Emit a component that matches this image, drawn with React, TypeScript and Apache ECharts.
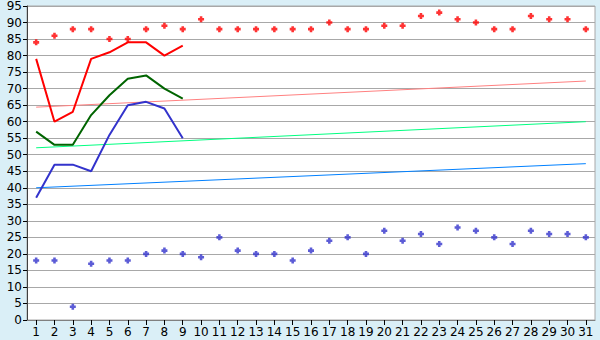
import React, { useEffect, useRef } from "react";
import * as echarts from "echarts";

const days = ["1","2","3","4","5","6","7","8","9","10","11","12","13","14","15","16","17","18","19","20","21","22","23","24","25","26","27","28","29","30","31"];
const redLine = [79, 60, 63, 79, 81, 84, 84, 80, 83];
const greenLine = [57, 53, 53, 62, 68, 73, 74, 70, 67];
const blueLine = [37, 47, 47, 45, 56, 65, 66, 64, 55];
const redPoints = [84, 86, 88, 88, 85, 85, 88, 89, 88, 91, 88, 88, 88, 88, 88, 88, 90, 88, 88, 89, 89, 92, 93, 91, 90, 88, 88, 92, 91, 91, 88];
const bluePoints = [18, 18, 4, 17, 18, 18, 20, 21, 20, 19, 25, 21, 20, 20, 18, 21, 24, 25, 20, 27, 24, 26, 23, 28, 27, 25, 23, 27, 26, 26, 25];
const redTrend = [64.4, null, null, null, null, null, null, null, null, null, null, null, null, null, null, null, null, null, null, null, null, null, null, null, null, null, null, null, null, null, 72.3];
const greenTrend = [52.1, null, null, null, null, null, null, null, null, null, null, null, null, null, null, null, null, null, null, null, null, null, null, null, null, null, null, null, null, null, 60.0];
const blueTrend = [40.0, null, null, null, null, null, null, null, null, null, null, null, null, null, null, null, null, null, null, null, null, null, null, null, null, null, null, null, null, null, 47.3];

const plusSymbol = "path://M2,0H5V2H7V5H5V7H2V5H0V2H2Z";

export default function App() {
  const ref = useRef<HTMLDivElement>(null);
  useEffect(() => {
    const chart = echarts.init(ref.current!, null, { renderer: "svg" });
    const font = "DejaVu Sans";
    chart.setOption({
      animation: false,
      backgroundColor: "#daeff7",
      grid: {
        left: 27,
        top: 5,
        width: 568,
        height: 315,
        show: true,
        backgroundColor: "#ffffff",
        borderColor: "#a8a8a8",
        borderWidth: 1,
      },
      xAxis: {
        type: "category",
        data: days,
        boundaryGap: true,
        axisLine: { show: true, lineStyle: { color: "#808080", width: 1 } },
        axisTick: { show: true, alignWithLabel: true, length: 5, lineStyle: { color: "#000000" } },
        axisLabel: { color: "#000000", fontFamily: font, fontSize: 12, margin: 6, interval: 0 },
        splitLine: { show: false },
      },
      yAxis: {
        type: "value",
        min: 0,
        max: 95,
        interval: 5,
        axisLine: { show: true, lineStyle: { color: "#404040", width: 1 } },
        axisTick: { show: true, length: 4, lineStyle: { color: "#000000" } },
        axisLabel: { color: "#000000", fontFamily: font, fontSize: 12, margin: 5 },
        splitLine: { show: true, lineStyle: { color: "#a8a8a8", width: 1 } },
      },
      series: [
        { type: "line", data: redTrend, connectNulls: true, symbol: "none", lineStyle: { color: "#ff8080", width: 1 }, z: 2 },
        { type: "line", data: greenTrend, connectNulls: true, symbol: "none", lineStyle: { color: "#00ff80", width: 1 }, z: 2 },
        { type: "line", data: blueTrend, connectNulls: true, symbol: "none", lineStyle: { color: "#0080ff", width: 1 }, z: 2 },
        { type: "line", data: redLine, symbol: "none", lineStyle: { color: "#ff0000", width: 2 }, z: 3 },
        { type: "line", data: greenLine, symbol: "none", lineStyle: { color: "#006400", width: 2 }, z: 3 },
        { type: "line", data: blueLine, symbol: "none", lineStyle: { color: "#3333cc", width: 2 }, z: 3 },
        { type: "scatter", data: redPoints, symbol: plusSymbol, symbolSize: 6, itemStyle: { color: "#ff0000" }, z: 4 },
        { type: "scatter", data: bluePoints, symbol: plusSymbol, symbolSize: 6, itemStyle: { color: "#3333cc" }, z: 4 },
      ],
    });
    return () => chart.dispose();
  }, []);
  return <div ref={ref} style={{ width: 600, height: 340, position: "absolute", left: 0, top: 0 }} />;
}
